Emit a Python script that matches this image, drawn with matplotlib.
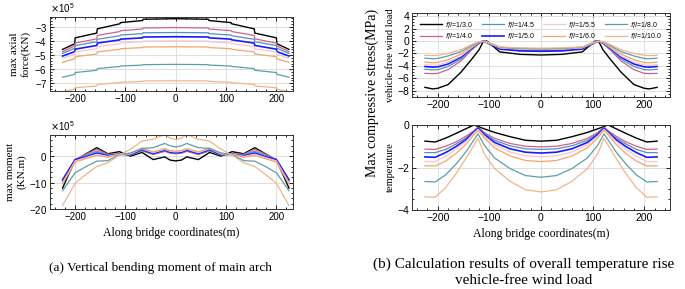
import matplotlib.pyplot as plt
import numpy as np
from matplotlib.ticker import AutoMinorLocator, ScalarFormatter, MultipleLocator

# ---- series info ----
labels = ['$f/l$=1/3.0', '$f/l$=1/4.0', '$f/l$=1/4.5', '$f/l$=1/5.0',
          '$f/l$=1/5.5', '$f/l$=1/6.0', '$f/l$=1/8.0', '$f/l$=1/10.0']
colors = ['#000000', '#d4608a', '#4f93bf', '#1a1aff',
          '#f7c5d0', '#f2a66a', '#5a9fa8', '#f0b58a']
widths = [1.0, 0.9, 0.9, 1.2, 0.9, 0.9, 0.9, 0.9]

# ---- (a) top: max axial force (x1e5 kN), half span (symmetric) ----
xa = [0, 65, 66, 110, 111, 156, 157, 200, 201, 225]
axial = [
    [-2.42, -2.46, -2.55, -2.70, -2.78, -3.14, -3.44, -3.78, -4.20, -4.60],
    [-3.05, -3.08, -3.15, -3.27, -3.33, -3.61, -3.85, -4.15, -4.35, -4.76],
    [-3.40, -3.42, -3.48, -3.58, -3.63, -3.88, -4.05, -4.33, -4.52, -4.88],
    [-3.70, -3.72, -3.78, -3.87, -3.92, -4.15, -4.32, -4.58, -4.76, -5.07],
    [-3.99, -4.01, -4.06, -4.14, -4.19, -4.40, -4.55, -4.78, -4.95, -5.23],
    [-4.41, -4.43, -4.47, -4.55, -4.59, -4.78, -4.92, -5.12, -5.27, -5.52],
    [-5.66, -5.68, -5.71, -5.78, -5.81, -5.96, -6.08, -6.24, -6.37, -6.57],
    [-6.83, -6.84, -6.87, -6.93, -6.96, -7.08, -7.19, -7.32, -7.43, -7.60],
]

# ---- (a) bottom: max moment (x1e5 kN.m), half span ----
xm = [0, 11, 22, 45, 67, 90, 112, 135, 157, 179, 200, 212, 225]
moment = [
    [-1.8, -1.5, -0.3, -1.3, 1.4, 0.0, 1.7, 0.9, 3.2, 0.8, -1.6, -6.5, -12.1],
    [0.9, 1.1, 1.8, 0.6, 2.0, 0.4, 0.8, 0.7, 2.6, 0.7, -1.3, -5.0, -9.0],
    [1.1, 1.3, 2.0, 0.8, 2.2, 0.5, 0.8, 0.4, 1.9, 0.2, -1.4, -5.3, -9.5],
    [1.3, 1.5, 2.3, 1.0, 2.5, 0.6, 0.7, 0.1, 1.2, -0.3, -1.3, -5.0, -9.0],
    [1.6, 1.8, 2.6, 1.3, 2.8, 0.8, 0.7, -0.1, 0.7, -0.6, -1.8, -5.8, -10.0],
    [1.9, 2.1, 2.9, 1.6, 3.1, 1.0, 0.6, -0.4, 0.3, -1.0, -2.2, -6.3, -10.5],
    [3.5, 3.9, 4.8, 3.2, 2.9, 1.2, 0.5, -1.7, -1.9, -4.0, -6.3, -9.5, -13.1],
    [6.3, 6.8, 8.2, 6.4, 5.7, 2.6, 0.4, -2.5, -3.9, -7.0, -10.2, -14.3, -18.7],
]

# ---- (b) top: stress, vehicle-free wind load (MPa), half span ----
xs = [0, 40, 80, 95, 105, 112, 120, 135, 155, 180, 200, 210, 225]
stress_wind = [
    [-2.25, -2.15, -1.75, -0.7, 0.0, -0.1, -1.4, -3.0, -5.0, -7.0, -7.6, -7.7, -7.45],
    [-1.55, -1.5, -1.2, -0.6, -0.2, 0.0, -0.4, -1.5, -3.2, -4.6, -5.2, -5.25, -5.2],
    [-1.5, -1.45, -1.15, -0.6, -0.2, 0.0, -0.35, -1.35, -2.9, -4.1, -4.6, -4.65, -4.55],
    [-1.65, -1.6, -1.3, -0.65, -0.25, 0.0, -0.3, -1.2, -2.6, -3.7, -4.15, -4.2, -4.1],
    [-1.35, -1.3, -1.1, -0.55, -0.2, -0.05, -0.25, -1.1, -2.4, -3.4, -3.85, -3.9, -3.8],
    [-1.3, -1.25, -1.05, -0.5, -0.2, -0.05, -0.2, -0.95, -2.1, -3.0, -3.45, -3.5, -3.4],
    [-1.25, -1.2, -1.0, -0.45, -0.15, -0.05, -0.15, -0.75, -1.7, -2.4, -2.8, -2.85, -2.75],
    [-1.15, -1.1, -0.95, -0.45, -0.15, -0.05, -0.1, -0.6, -1.4, -2.0, -2.3, -2.35, -2.3],
]

# ---- (b) bottom: stress, temperature (MPa), half span ----
xt = [0, 30, 60, 90, 110, 122, 130, 145, 165, 185, 205, 225]
stress_temp = [
    [-0.76, -0.72, -0.55, -0.35, -0.18, -0.07, 0.0, -0.17, -0.40, -0.62, -0.80, -0.76],
    [-1.03, -1.00, -0.87, -0.63, -0.35, -0.10, -0.27, -0.52, -0.80, -1.00, -1.15, -1.13],
    [-1.15, -1.12, -0.98, -0.72, -0.40, -0.12, -0.30, -0.60, -0.90, -1.15, -1.30, -1.30],
    [-1.32, -1.28, -1.12, -0.82, -0.45, -0.15, -0.33, -0.68, -1.02, -1.30, -1.52, -1.50],
    [-1.50, -1.45, -1.27, -0.93, -0.52, -0.20, -0.38, -0.77, -1.15, -1.47, -1.72, -1.72],
    [-1.72, -1.67, -1.46, -1.07, -0.60, -0.25, -0.45, -0.90, -1.35, -1.70, -1.93, -1.92],
    [-2.46, -2.38, -2.05, -1.55, -0.95, -0.42, -0.70, -1.25, -1.85, -2.35, -2.68, -2.66],
    [-3.15, -3.05, -2.65, -2.05, -1.35, -0.63, -0.95, -1.55, -2.30, -2.95, -3.40, -3.38],
]


def mirror(xh, yh):
    xh = np.asarray(xh, float)
    yh = np.asarray(yh, float)
    return (np.concatenate([-xh[::-1], xh[1:]]),
            np.concatenate([yh[::-1], yh[1:]]))


plt.rcParams['font.family'] = 'Liberation Sans'
serif = 'Liberation Serif'

fig = plt.figure(figsize=(6.85, 2.89), dpi=100)
W, H = 685, 289


def box(l, t, r, b):
    return [l / W, 1 - b / H, (r - l) / W, (b - t) / H]


ax1 = fig.add_axes(box(50, 17, 293, 91))
ax2 = fig.add_axes(box(50, 135, 293, 209))
ax3 = fig.add_axes(box(412, 13, 670, 97))
ax4 = fig.add_axes(box(412, 125, 670, 210))


def style(ax):
    ax.grid(True, color='#d9d9d9', lw=0.6)
    ax.set_axisbelow(True)
    ax.xaxis.set_major_locator(MultipleLocator(100))
    ax.xaxis.set_minor_locator(AutoMinorLocator())
    ax.yaxis.set_minor_locator(AutoMinorLocator())
    ax.tick_params(which='both', direction='in', top=True, right=True,
                   labelsize=7, width=0.6, pad=2)
    ax.tick_params(which='major', length=3)
    ax.tick_params(which='minor', length=1.5)
    for s in ax.spines.values():
        s.set_linewidth(0.7)
        s.set_color('#333333')


for i in range(8):
    x, y = mirror(xa, axial[i])
    ax1.plot(x, y * 1e5, color=colors[i], lw=widths[i])
    x, y = mirror(xm, moment[i])
    ax2.plot(x, y * 1e5, color=colors[i], lw=widths[i])
    x, y = mirror(xs, stress_wind[i])
    ax3.plot(x, y, color=colors[i], lw=widths[i], label=labels[i])
    x, y = mirror(xt, stress_temp[i])
    ax4.plot(x, y, color=colors[i], lw=widths[i])

for ax in (ax1, ax2):
    style(ax)
    ax.set_xlim(-250, 233)
    fmt = ScalarFormatter(useMathText=True)
    fmt.set_powerlimits((5, 5))
    ax.yaxis.set_major_formatter(fmt)
    ax.yaxis.get_offset_text().set_fontsize(7)

ax1.set_ylim(-7.55e5, -2.3e5)
ax1.yaxis.set_major_locator(MultipleLocator(1e5))
ax2.set_ylim(-20e5, 8e5)
ax2.yaxis.set_major_locator(MultipleLocator(10e5))

for ax in (ax3, ax4):
    style(ax)
    ax.set_xlim(-250, 250)
    ax.tick_params(labelsize=7.5)

ax3.set_ylim(-9, 4.5)
ax3.yaxis.set_major_locator(MultipleLocator(2))
ax4.set_ylim(-4, 0)
ax4.yaxis.set_major_locator(MultipleLocator(2))

ax1.set_ylabel('max axial\nforce(KN)', family=serif, fontsize=8, labelpad=3)
ax2.set_ylabel('max moment\n(KN.m)', family=serif, fontsize=8, labelpad=2)
ax2.set_xlabel('Along bridge coordinates(m)', family=serif, fontsize=8.5, labelpad=4)
ax4.set_xlabel('Along bridge coordinates(m)', family=serif, fontsize=8.5, labelpad=4)
ax3.set_ylabel('vehicle-free wind load', family=serif, fontsize=7.5)
ax4.set_ylabel('temperature', family=serif, fontsize=7.5)
ax3.yaxis.set_label_coords((395 - 412) / 258, 0.5)
ax4.yaxis.set_label_coords((395 - 412) / 258, 0.5)

fig.text(372 / W, 1 - 93 / H, 'Max compressive stress(MPa)', family=serif,
         fontsize=10, rotation=90, ha='center', va='center')

ax3.legend(loc='upper center', bbox_to_anchor=(0.5, 0.97), ncol=4, fontsize=5,
           frameon=False, handlelength=3.2, columnspacing=1.2,
           handletextpad=0.4, labelspacing=0.25, borderaxespad=0.2)

fig.text(160 / W, 1 - 268 / H, '(a) Vertical bending moment of main arch',
         family=serif, fontsize=9.5, ha='center', va='center')
fig.text(524 / W, 1 - 264 / H, '(b) Calculation results of overall temperature rise',
         family=serif, fontsize=11, ha='center', va='center')
fig.text(524 / W, 1 - 281 / H, 'vehicle-free wind load',
         family=serif, fontsize=11, ha='center', va='center')

fig.savefig('out.png', dpi=100)
